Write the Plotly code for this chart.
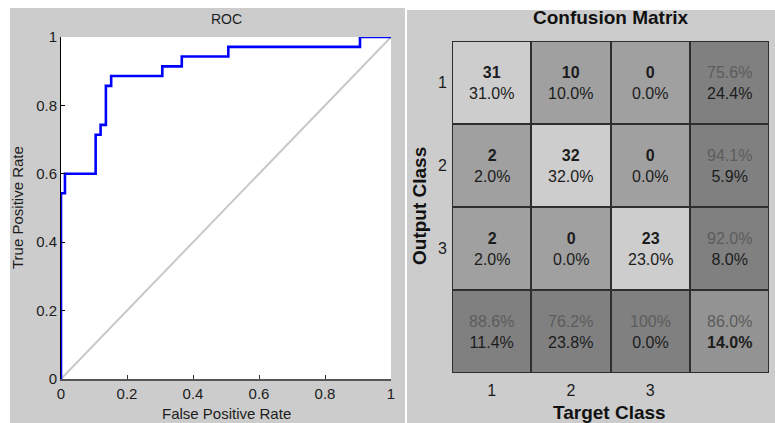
import plotly.graph_objects as go

# ---------------- data ----------------
roc_fpr = [0, 0, 0.012, 0.105, 0.12, 0.136, 0.152, 0.307, 0.366, 0.507, 0.906, 1.0]
roc_tpr = [0, 0.543, 0.6, 0.714, 0.743, 0.857, 0.886, 0.914, 0.943, 0.971, 1.0, 1.0]
diag_x = [0, 1]
diag_y = [0, 1]
roc_ticks = [0, 0.2, 0.4, 0.6, 0.8, 1]
roc_tick_labels = ["0", "0.2", "0.4", "0.6", "0.8", "1"]

class_labels = ["1", "2", "3"]
counts = [[31, 10, 0],
          [2, 32, 0],
          [2, 0, 23]]

W, H = 775, 423
FONT = "Liberation Sans, Arial, sans-serif"
TXT = "#1c1c1c"
GRAYTXT = "#5c5c5c"

def px(x):
    return x / W

def py(y):
    return 1 - y / H

fig = go.Figure()

# ---------------- ROC ----------------
fig.add_trace(go.Scatter(x=diag_x, y=diag_y, mode="lines",
                         line=dict(color="#c8c8c8", width=2),
                         xaxis="x", yaxis="y", showlegend=False, hoverinfo="skip"))
fig.add_trace(go.Scatter(x=roc_fpr, y=roc_tpr, mode="lines", line_shape="hv",
                         line=dict(color="#0000ff", width=2.6),
                         xaxis="x", yaxis="y", showlegend=False))

# ---------------- Confusion matrix ----------------
n = len(counts)
total = sum(sum(r) for r in counts)
row_tot = [sum(r) for r in counts]
col_tot = [sum(counts[i][j] for i in range(n)) for j in range(n)]
correct = sum(counts[i][i] for i in range(n))

# category codes: 0 diagonal, 1 off-diagonal, 2 summary, 3 total
z = []
for i in range(n + 1):
    row = []
    for j in range(n + 1):
        if i == n and j == n:
            row.append(3)
        elif i == n or j == n:
            row.append(2)
        elif i == j:
            row.append(0)
        else:
            row.append(1)
    z.append(row)

cscale = [[0, "#cdcdcd"], [1 / 3, "#a0a0a0"], [2 / 3, "#808080"], [1, "#939393"]]
fig.add_trace(go.Heatmap(z=z, x=list(range(n + 1)), y=list(range(n + 1)),
                         colorscale=cscale, zmin=0, zmax=3, showscale=False,
                         xgap=2, ygap=2, xaxis="x2", yaxis="y2", hoverinfo="skip"))


def pct(v):
    if abs(v - 100) < 1e-9:
        return "100%"
    return f"{v:.1f}%"

annotations = []
for i in range(n + 1):
    for j in range(n + 1):
        if i < n and j < n:
            c = counts[i][j]
            t = f"<b>{c}</b><br>{pct(100 * c / total)}"
        elif i < n and j == n:
            p = 100 * counts[i][i] / row_tot[i]
            t = f"<span style='color:{GRAYTXT}'>{pct(p)}</span><br>{pct(100 - p)}"
        elif i == n and j < n:
            p = 100 * counts[j][j] / col_tot[j]
            t = f"<span style='color:{GRAYTXT}'>{pct(p)}</span><br>{pct(100 - p)}"
        else:
            p = 100 * correct / total
            t = f"<span style='color:{GRAYTXT}'>{pct(p)}</span><br><b>{pct(100 - p)}</b>"
        annotations.append(dict(x=j, y=i, xref="x2", yref="y2", text=t, showarrow=False,
                                font=dict(family=FONT, size=16, color=TXT)))

# titles
annotations += [
    dict(x=px(226), y=py(19), xref="paper", yref="paper", text="ROC", showarrow=False,
         font=dict(family=FONT, size=14, color=TXT), xanchor="center", yanchor="middle"),
    dict(x=px(226), y=py(413), xref="paper", yref="paper", text="False Positive Rate", showarrow=False,
         font=dict(family=FONT, size=15, color=TXT), xanchor="center", yanchor="middle"),
    dict(x=px(17), y=py(208), xref="paper", yref="paper", text="True Positive Rate", showarrow=False,
         textangle=-90, font=dict(family=FONT, size=15, color=TXT), xanchor="center", yanchor="middle"),
    dict(x=px(611), y=py(18), xref="paper", yref="paper", text="<b>Confusion Matrix</b>", showarrow=False,
         font=dict(family=FONT, size=19, color="#111111"), xanchor="center", yanchor="middle"),
    dict(x=px(609), y=py(412), xref="paper", yref="paper", text="<b>Target Class</b>", showarrow=False,
         font=dict(family=FONT, size=19, color="#111111"), xanchor="center", yanchor="middle"),
    dict(x=px(419), y=py(206), xref="paper", yref="paper", text="<b>Output Class</b>", showarrow=False,
         textangle=-90, font=dict(family=FONT, size=19, color="#111111"), xanchor="center", yanchor="middle"),
]

shapes = [
    dict(type="rect", xref="paper", yref="paper", x0=px(10), x1=px(405), y0=py(423), y1=py(8),
         fillcolor="#cccccc", line=dict(width=0), layer="below"),
    dict(type="rect", xref="paper", yref="paper", x0=px(407), x1=px(775), y0=py(423), y1=py(10),
         fillcolor="#cccccc", line=dict(width=0), layer="below"),
    dict(type="rect", xref="x domain", yref="y domain", x0=0, x1=1, y0=0, y1=1,
         fillcolor="white", line=dict(width=0), layer="below"),
    dict(type="rect", xref="x2", yref="y2", x0=-0.5, x1=n + 0.5, y0=-0.5, y1=n + 0.5,
         fillcolor="#2e2e2e", line=dict(color="#2e2e2e", width=2), layer="below"),
]

fig.update_layout(
    width=W, height=H, margin=dict(l=0, r=0, t=0, b=0),
    paper_bgcolor="white", plot_bgcolor="white",
    font=dict(family=FONT, color=TXT),
    annotations=annotations, shapes=shapes,
    xaxis=dict(domain=[px(61), px(391)], range=[0, 1], tickvals=roc_ticks, ticktext=roc_tick_labels,
               ticks="inside", ticklen=4, tickcolor="#333333", showgrid=False, zeroline=False,
               showline=True, linecolor="#555555", linewidth=2, tickfont=dict(size=15, color=TXT),
               anchor="y", fixedrange=True, automargin=False),
    yaxis=dict(domain=[py(379), py(37)], range=[0, 1], tickvals=roc_ticks, ticktext=roc_tick_labels,
               ticks="inside", ticklen=4, tickcolor="#000000", showgrid=False, zeroline=False,
               showline=True, linecolor="#000000", linewidth=1, tickfont=dict(size=15, color=TXT),
               anchor="x", fixedrange=True, automargin=False),
    xaxis2=dict(domain=[px(452), px(769)], range=[-0.5, n + 0.5], tickvals=list(range(n)),
                ticktext=class_labels, ticks="", showgrid=False, zeroline=False, showline=False,
                tickfont=dict(size=16, color=TXT), anchor="y2", fixedrange=True, automargin=False,
                ticklabelstandoff=6),
    yaxis2=dict(domain=[py(373), py(41)], range=[n + 0.5, -0.5], tickvals=list(range(n)),
                ticktext=class_labels, ticks="", showgrid=False, zeroline=False, showline=False,
                tickfont=dict(size=16, color=TXT), anchor="x2", fixedrange=True, automargin=False,
                ticklabelstandoff=4),
)

fig.write_html("out.html",
               post_script="document.body.style.margin='0';document.body.style.padding='0';"
                           "document.documentElement.style.overflow='hidden';")
